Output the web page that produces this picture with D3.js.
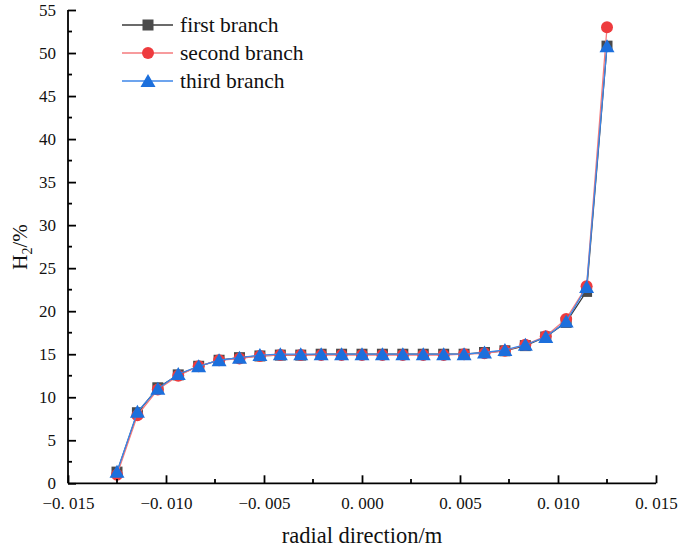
<!DOCTYPE html>
<html><head><meta charset="utf-8">
<script src="https://cdn.jsdelivr.net/npm/d3@7"></script>
<style>body{margin:0;background:#fff;} svg{display:block;} text{font-family:"Liberation Serif","Times New Roman",Tinos,Times,"DejaVu Serif","Noto Serif",serif;}</style>
</head><body>
<script>
const xValues = [-0.0125,-0.0114583,-0.0104167,-0.009375,-0.0083333,-0.0072917,-0.00625,-0.0052083,-0.0041667,-0.003125,-0.0020833,-0.0010417,0,0.0010417,0.0020833,0.003125,0.0041667,0.0052083,0.00625,0.0072917,0.0083333,0.009375,0.0104167,0.0114583,0.0125];
const firstBranch  = [1.3,8.2,11.1,12.6,13.6,14.3,14.6,14.8,14.9,14.9,15.0,15.0,15.0,15.0,15.0,15.0,15.0,15.0,15.2,15.4,16.0,17.0,18.7,22.3,50.8];
const secondBranch = [1.0,7.9,10.9,12.5,13.6,14.3,14.5,14.8,14.9,14.9,14.9,14.9,14.9,14.9,14.9,14.9,14.9,15.0,15.1,15.4,16.1,17.1,19.1,22.9,53.0];
const thirdBranch  = [1.35,8.3,11.0,12.7,13.6,14.3,14.6,14.9,15.0,15.0,15.0,15.0,15.0,15.0,15.0,15.0,15.0,15.0,15.2,15.5,16.1,17.0,18.8,22.8,50.8];
const seriesNames = ["first branch","second branch","third branch"];
const xTicks = [-0.015,-0.010,-0.005,0,0.005,0.010,0.015];
const yTicks = [0,5,10,15,20,25,30,35,40,45,50,55];

const W=685,H=550;
const svg=d3.select("body").append("svg").attr("width",W).attr("height",H);
const x=d3.scaleLinear().domain([-0.015,0.015]).range([68,656]);
const y=d3.scaleLinear().domain([0,55]).range([483.3,10]);

const series=[
 {name:seriesNames[0],vals:firstBranch,line:"#3a3a3a",fill:"#4a4a4a",shape:"square"},
 {name:seriesNames[1],vals:secondBranch,line:"#f47a7c",fill:"#ee3b3e",shape:"circle"},
 {name:seriesNames[2],vals:thirdBranch,line:"#3c86e8",fill:"#1c6fdc",shape:"triangle"}
];

function marker(g,shape,cx,cy,fill){
  if(shape==="square"){g.append("rect").attr("x",cx-5.5).attr("y",cy-5.5).attr("width",11).attr("height",11).attr("fill",fill);}
  else if(shape==="circle"){g.append("circle").attr("cx",cx).attr("cy",cy).attr("r",6).attr("fill",fill);}
  else {g.append("path").attr("d",`M${cx},${cy-7}L${cx+7.5},${cy+6}L${cx-7.5},${cy+6}Z`).attr("fill",fill);}
}

series.forEach(s=>{
  const g=svg.append("g");
  const line=d3.line().x((d,i)=>x(xValues[i])).y(d=>y(d));
  g.append("path").datum(s.vals).attr("d",line).attr("fill","none").attr("stroke",s.line).attr("stroke-width",1.3);
  s.vals.forEach((v,i)=>marker(g,s.shape,x(xValues[i]),y(v),s.fill));
});

// axes
const fmt=d=>{ const s=Math.abs(d).toFixed(3).replace(".",". "); return (d<0?"\u2212":"")+s; };
const xAxis=d3.axisBottom(x).tickValues(xTicks).tickFormat(fmt).tickSize(-8).tickPadding(14);
const gx=svg.append("g").attr("transform","translate(0,483.3)").call(xAxis);
gx.attr("font-family",null);
gx.selectAll(".tick line").attr("stroke-width",1.8);
gx.select(".domain").attr("stroke-width",1.8).attr("d","M68,0H656");
gx.selectAll("text").attr("font-size",17).attr("fill","#111");
const xMinor=d3.range(-0.0125,0.015,0.005);
svg.append("g").selectAll("line").data(xMinor).join("line")
  .attr("x1",d=>x(d)).attr("x2",d=>x(d)).attr("y1",483.3).attr("y2",479).attr("stroke","#000").attr("stroke-width",1.8);

const yAxis=d3.axisLeft(y).tickValues(yTicks).tickSize(-8).tickPadding(12);
const gy=svg.append("g").attr("transform","translate(68,0)").call(yAxis);
gy.attr("font-family",null);
gy.selectAll(".tick line").attr("stroke-width",1.8);
gy.select(".domain").attr("stroke-width",1.8).attr("d","M0,10V483.3");
gy.selectAll("text").attr("font-size",17).attr("fill","#111");
const yMinor=d3.range(2.5,55,5);
svg.append("g").selectAll("line").data(yMinor).join("line")
  .attr("x1",68).attr("x2",72).attr("y1",d=>y(d)).attr("y2",d=>y(d)).attr("stroke","#000").attr("stroke-width",1.8);

// axis titles
svg.append("text").attr("x",362).attr("y",543).attr("text-anchor","middle")
  .attr("font-size",22.5).attr("fill","#111").text("radial direction/m");
const yl=svg.append("text").attr("transform","translate(27,247) rotate(-90)").attr("text-anchor","middle")
  .attr("font-size",21).attr("fill","#111");
yl.append("tspan").text("H");
yl.append("tspan").attr("font-size",14).attr("dy",5).text("2");
yl.append("tspan").attr("dy",-5).text("/%");

// legend
const ly=[25,53,81];
series.forEach((s,i)=>{
  const g=svg.append("g");
  g.append("line").attr("x1",122).attr("x2",173).attr("y1",ly[i]).attr("y2",ly[i]).attr("stroke",s.line).attr("stroke-width",1.3);
  marker(g,s.shape,148,ly[i],s.fill);
  g.append("text").attr("x",180).attr("y",ly[i]+7).attr("font-size",21.5).attr("fill","#111").text(s.name);
});
</script>
</body></html>
